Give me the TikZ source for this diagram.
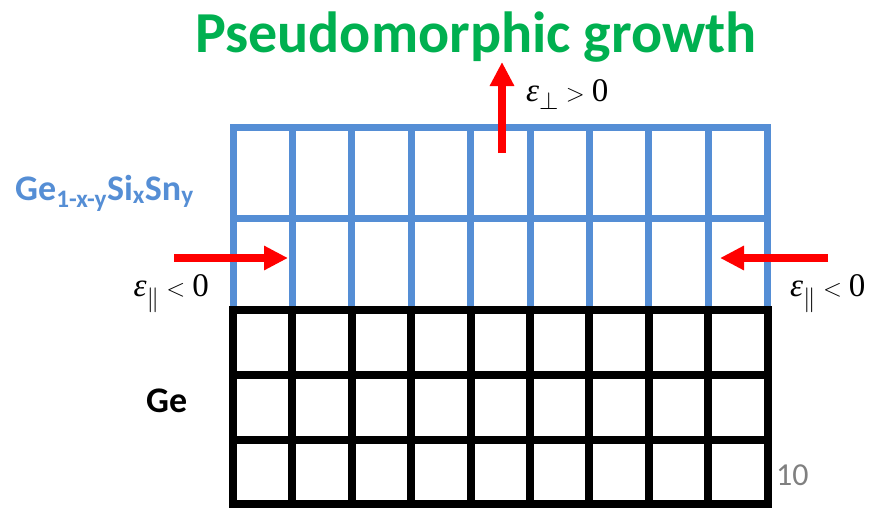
\documentclass[tikz,border=0pt]{standalone}
\usepackage{fontspec}
\setmainfont{Carlito}
\newfontfamily\tnr{Liberation Serif}
\usepackage{amsmath,amssymb}
\usetikzlibrary{arrows.meta}

\definecolor{titlegreen}{RGB}{0,176,80}
\definecolor{alloyblue}{RGB}{85,142,213}
\definecolor{numgray}{RGB}{128,128,128}

\newcommand{\strainlbl}[3]{$\text{\itshape ε}_{#1}#2\text{#3}$}

\begin{document}
\begin{tikzpicture}[
  x=1pt, y=-1pt,
  bline/.style = {draw=alloyblue, line width=7pt, line cap=rect},
  kline/.style = {draw=black, line width=8pt, line cap=rect},
  arr/.style   = {-{Triangle[length=24pt,width=23pt]}, draw=red, line width=7.5pt},
  lbl/.style   = {inner sep=0pt, anchor=base west},
  eps/.style   = {lbl, font=\tnr\fontsize{33}{36}\selectfont},
]
\useasboundingbox (0,0) rectangle (871,509);

% =========================== strained layer (blue) =========================
\foreach \i in {0,...,9}
  \draw[bline] ({233+59.4*\i},127) -- ({233+59.4*\i},310);
\foreach \j in {127,218}
  \draw[bline] (233,\j) -- (767.6,\j);

% =========================== substrate (black) =============================
\foreach \i in {0,...,9}
  \draw[kline] ({233+59.4*\i},310) -- ({233+59.4*\i},504);
\foreach \j in {310,375,440,504}
  \draw[kline] (233,\j) -- (767.6,\j);

% =========================== labels ========================================
\node[lbl, anchor=base, text=titlegreen,
      font=\fontsize{58}{62}\selectfont\bfseries] (title) at (476,52)
  {Pseudomorphic growth};
\node[lbl, text=alloyblue, font=\fontsize{36}{38}\selectfont\bfseries]
  (alloy) at (15,200)
  {Ge\textsubscript{1-x-y}Si\textsubscript{x}Sn\textsubscript{y}};
\node[lbl, font=\fontsize{36}{38}\selectfont\bfseries] (sub) at (146,412) {Ge};
\node[lbl, text=numgray, font=\fontsize{32}{34}\selectfont] (pgnum) at (776,485) {10};

\node[eps] (eperp) at (526,101) {\strainlbl{\perp}{>}{0}};
\node[eps, anchor=base east] (epl) at (209,296) {\strainlbl{\parallel}{<}{0}};
\node[eps] (epr) at (790,296) {\strainlbl{\parallel}{<}{0}};

% =========================== strain arrows =================================
\coordinate (ptail) at (502,153);
\coordinate (ptip)  at (502,62);
\coordinate (ltail) at (174,258);
\coordinate (ltip)  at (288,258);
\coordinate (rtail) at (828,258);
\coordinate (rtip)  at (720,258);

\draw[arr] (ptail) -- (ptip);
\draw[arr] (ltail) -- (ltip);
\draw[arr] (rtail) -- (rtip);

\end{tikzpicture}
\end{document}
